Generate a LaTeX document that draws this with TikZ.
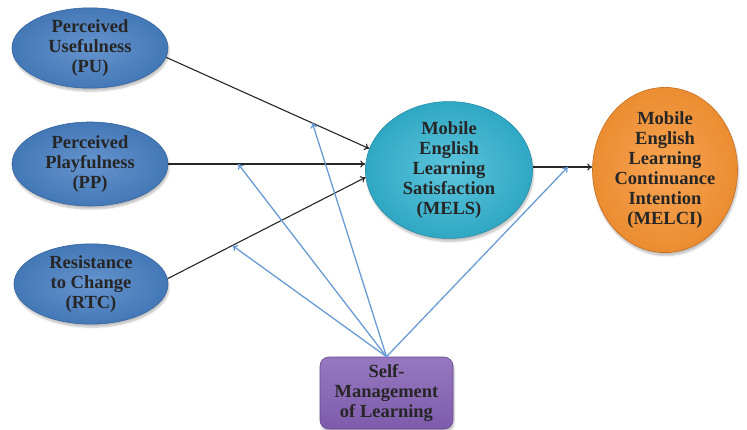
\documentclass[tikz,border=0pt]{standalone}
\usepackage{fontspec}
\setmainfont{Liberation Serif}[BoldFont={Liberation Serif Bold}]
\newfontfamily\constructfont{Liberation Serif Bold}
\usetikzlibrary{shapes.geometric,arrows.meta,shadows.blur}

\definecolor{puBlue}{RGB}{74,130,198}
\definecolor{puEdge}{RGB}{52,100,160}
\definecolor{melsCyan}{RGB}{52,182,212}
\definecolor{melsEdge}{RGB}{36,140,170}
\definecolor{melciOrange}{RGB}{247,148,52}
\definecolor{melciEdge}{RGB}{200,110,30}
\definecolor{smlPurple}{RGB}{132,96,180}
\definecolor{smlEdge}{RGB}{100,70,145}
\definecolor{modLine}{RGB}{105,155,212}

\tikzset{
  construct/.style={ellipse, inner sep=0pt, align=center,
    font=\constructfont\fontsize{18.5}{20}\selectfont, text=black!85,
    blur shadow={shadow xshift=1pt, shadow yshift=-3pt, shadow blur steps=6, shadow opacity=25}},
  bluebox/.style={construct, draw=puEdge, line width=0.6pt,
    inner color=puBlue!85!white, outer color=puBlue!92!black},
  cyanbox/.style={construct, draw=melsEdge, line width=0.6pt,
    inner color=melsCyan!80!white, outer color=melsCyan!92!black},
  orangebox/.style={construct, draw=melciEdge, line width=0.6pt,
    inner color=melciOrange!85!white, outer color=melciOrange!95!black},
  modbox/.style={rectangle, rounded corners=9pt, inner sep=0pt, align=center,
    font=\constructfont\fontsize{18.5}{20}\selectfont, text=black!85,
    draw=smlEdge, line width=0.6pt,
    top color=smlPurple!85!white, bottom color=smlPurple!95!black,
    blur shadow={shadow xshift=1pt, shadow yshift=-3pt, shadow blur steps=6, shadow opacity=25}},
  path link/.style={draw=black!85, line width=1.1pt, -{To[length=5pt,width=7pt]}},
  mod link/.style={draw=modLine, line width=1.3pt, -{To[length=5pt,width=7pt]}}
}

\begin{document}
\begin{tikzpicture}[x=1pt, y=-1pt]
\useasboundingbox (0,0) rectangle (747,430);

% constructs
\node[bluebox, minimum width=156pt, minimum height=80pt] (PU) at (90,48)
  {Perceived\\Usefulness\\(PU)};
\node[bluebox, minimum width=156pt, minimum height=84pt] (PP) at (90,164)
  {Perceived\\Playfulness\\(PP)};
\node[bluebox, minimum width=154pt, minimum height=80pt] (RTC) at (91,284)
  {Resistance\\to Change\\(RTC)};
\node[cyanbox, minimum width=167pt, minimum height=124pt] (MELS) at (449,170)
  {Mobile\\English\\Learning\\Satisfaction\\(MELS)};
\node[orangebox, minimum width=145pt, minimum height=150pt] (MELCI) at (665,170)
  {Mobile\\English\\Learning\\Continuance\\Intention\\(MELCI)};
\node[modbox, minimum width=133pt, minimum height=72pt] (SML) at (386.5,393)
  {Self-\\Management\\of Learning};

% direct paths
\draw[path link] (PU.-7) -- coordinate[pos=0.72] (mPU) (MELS.165);
\draw[path link] (PP.east) -- coordinate[pos=0.355] (mPP) (PP.east -| MELS.west);
\draw[path link] (RTC.4) -- coordinate[pos=0.327] (mRTC) (MELS.185);
\draw[path link] (MELS.east |- 0,167) -- coordinate[pos=0.59] (mMELS) (MELCI.west |- 0,167);

% moderating paths
\draw[mod link] (SML.north) -- (mPU);
\draw[mod link] (SML.north) -- (mPP);
\draw[mod link] (SML.north) -- (mRTC);
\draw[mod link] (SML.north) -- (mMELS);
\end{tikzpicture}
\end{document}
